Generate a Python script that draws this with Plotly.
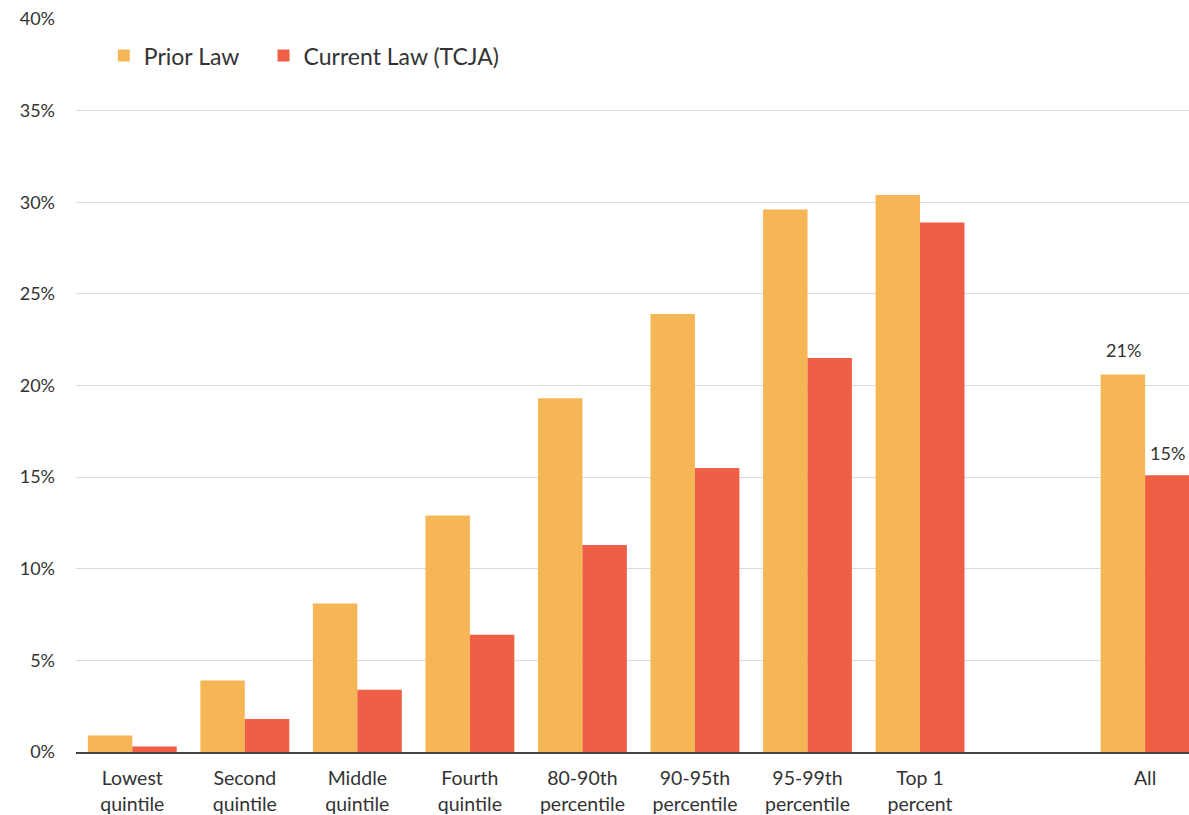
import plotly.graph_objects as go

categories = ["Lowest<br>quintile", "Second<br>quintile", "Middle<br>quintile", "Fourth<br>quintile",
              "80-90th<br>percentile", "90-95th<br>percentile", "95-99th<br>percentile", "Top 1<br>percent",
              " ", "All"]
prior_law = [0.9, 3.9, 8.1, 12.9, 19.3, 23.9, 29.6, 30.4, None, 20.6]
current_law = [0.3, 1.8, 3.4, 6.4, 11.3, 15.5, 21.5, 28.9, None, 15.1]
labeled = "All"
y_ticks = [0, 5, 10, 15, 20, 25, 30, 35, 40]

prior_color = "#F7B655"
current_color = "#EE5F45"
font_family = "Lato, 'Open Sans', sans-serif"
text_color = "#333333"

fig = go.Figure()
fig.add_trace(go.Bar(name="Prior Law", x=categories, y=prior_law, legend="legend",
                     marker=dict(color=prior_color, line=dict(width=0))))
fig.add_trace(go.Bar(name="Current Law (TCJA)", x=categories, y=current_law, legend="legend2",
                     marker=dict(color=current_color, line=dict(width=0))))

idx = categories.index(labeled)
for val, shift, ys in [(prior_law[idx], -22, 12), (current_law[idx], 22, 9)]:
    fig.add_annotation(x=labeled, y=val, text=f"{val:.0f}%", showarrow=False,
                       xshift=shift, yshift=ys, yanchor="bottom",
                       font=dict(size=18, color=text_color, family=font_family))

legend_style = dict(orientation="h", xanchor="left", yanchor="middle", y=0.95,
                    font=dict(size=23, color=text_color), bgcolor="rgba(0,0,0,0)", itemwidth=30)
fig.update_layout(
    width=1189, height=815,
    margin=dict(l=76, r=0, t=19, b=63),
    paper_bgcolor="white", plot_bgcolor="white",
    barmode="group", bargap=0.21, bargroupgap=0,
    font=dict(family=font_family, size=18, color=text_color),
    legend=dict(x=0.025, **legend_style),
    legend2=dict(x=0.1685, **legend_style),
    showlegend=True,
)
fig.update_xaxes(
    type="category", categoryorder="array", categoryarray=categories,
    range=[-0.5, 9.39], showgrid=False, showline=True, linecolor="#444444", linewidth=1.5,
    ticks="", tickfont=dict(size=19.5, color=text_color), ticklabelstandoff=8,
)
fig.update_yaxes(
    range=[0, 40], tickvals=y_ticks, ticktext=[f"{v}%" for v in y_ticks],
    showgrid=True, gridcolor="#DADADA", gridwidth=1, zeroline=False, showline=False,
    ticks="", tickfont=dict(size=18, color=text_color), ticklabelstandoff=20,
)

fig.write_html("out.html")
